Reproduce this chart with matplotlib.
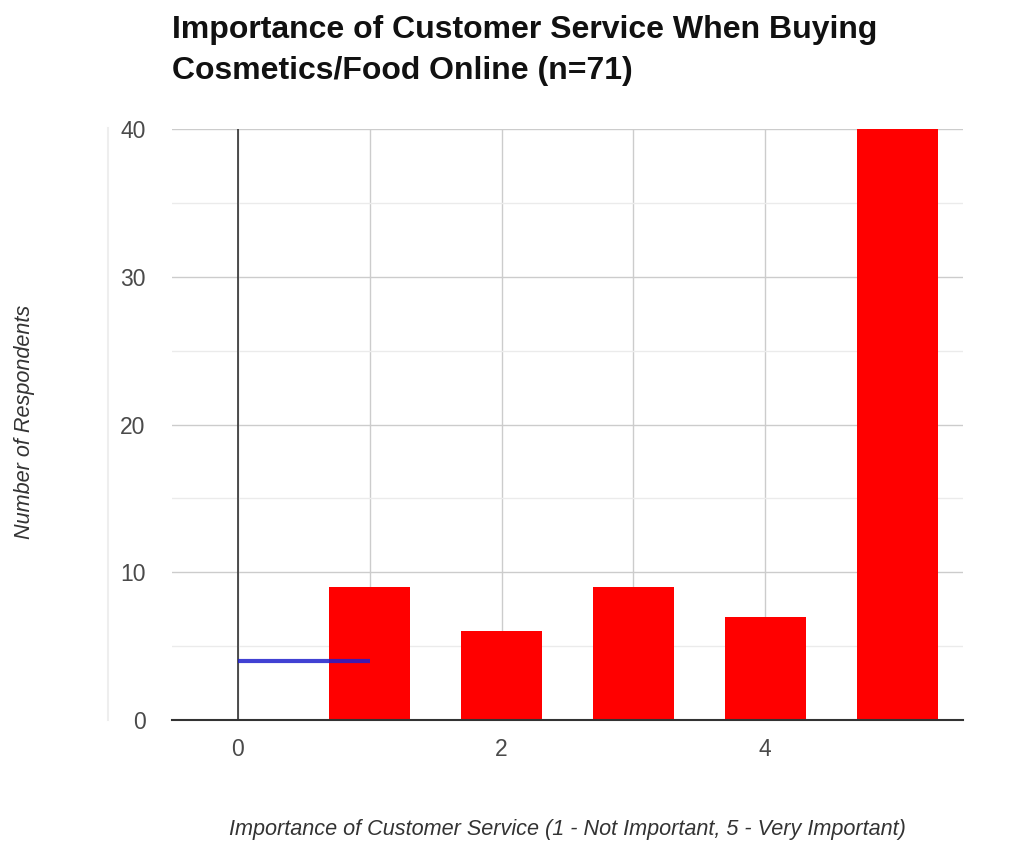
import matplotlib
matplotlib.use("Agg")
import matplotlib.pyplot as plt
from matplotlib.ticker import MultipleLocator

# Survey responses: importance rating (1-5) and number of respondents
ratings = [1, 2, 3, 4, 5]
respondents = [9, 6, 9, 7, 40]

# Secondary line series
line_x = [0, 1]
line_y = [4, 4]

title = "Importance of Customer Service When Buying\nCosmetics/Food Online (n=71)"
x_label = "Importance of Customer Service (1 - Not Important, 5 - Very Important)"
y_label = "Number of Respondents"
x_ticks = [0, 2, 4]
y_ticks = [0, 10, 20, 30, 40]

plt.rcParams["font.family"] = ["Liberation Sans", "DejaVu Sans"]

fig = plt.figure(figsize=(10.16, 8.43), dpi=100)
ax = fig.add_axes([172 / 1016, 1 - 720 / 843, (963 - 172) / 1016, (720 - 129) / 843])

ax.set_xlim(-0.5, 5.5)
ax.set_ylim(0, 40)

# Gridlines
ax.yaxis.set_minor_locator(MultipleLocator(5))
ax.xaxis.set_minor_locator(MultipleLocator(1))
ax.set_xticks(x_ticks)
ax.set_yticks(y_ticks)
ax.grid(which="major", axis="both", color="#cccccc", linewidth=1.0, zorder=0)
ax.grid(which="minor", axis="y", color="#ebebeb", linewidth=1.0, zorder=0)
ax.grid(which="minor", axis="x", color="#cccccc", linewidth=1.0, zorder=0)
ax.set_axisbelow(True)

# Baselines at x=0 and y=0
ax.axvline(0, color="#333333", linewidth=1.2, zorder=1)
ax.axhline(0, color="#333333", linewidth=1.5, zorder=4, clip_on=False)

ax.bar(ratings, respondents, width=0.615, color="#ff0000", zorder=2)
ax.plot(line_x, line_y, color="#1f1fcc", linewidth=3, alpha=0.85,
        solid_capstyle="butt", zorder=3)

for s in ax.spines.values():
    s.set_visible(False)

ax.tick_params(which="both", length=0)
ax.tick_params(axis="x", pad=13, labelsize=16.5, labelcolor="#4a4a4a")
ax.tick_params(axis="y", pad=19, labelsize=16.5, labelcolor="#4a4a4a")

fig.text(172 / 1016, 1 - 15 / 843, title, ha="left", va="top",
         fontsize=23, fontweight="bold", color="#111111", linespacing=1.5)
fig.text(567 / 1016, 1 - 830 / 843, x_label, ha="center", va="center",
         fontsize=15.6, style="italic", color="#333333")
fig.text(25 / 1016, 1 - 422 / 843, y_label, ha="center", va="center",
         rotation=90, fontsize=15.6, style="italic", color="#333333")

# Faint frame line on the left edge
fig.add_artist(plt.Line2D([108 / 1016, 108 / 1016], [1 - 720 / 843, 1 - 128 / 843],
                          color="#eeeeee", linewidth=1.5))

fig.savefig("out.png", dpi=100, facecolor="white")
